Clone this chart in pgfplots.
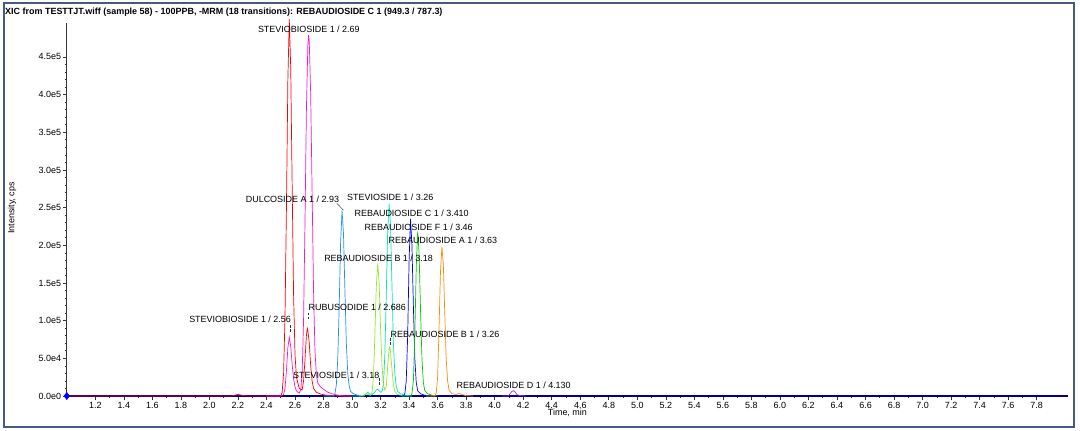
\documentclass[border=0pt]{standalone}
\usepackage{pgfplots}
\pgfplotsset{compat=1.18}
\usepackage{fontspec}
\setmainfont{Liberation Sans}

\definecolor{cRed}{RGB}{255,0,0}
\definecolor{cMag}{RGB}{255,20,200}
\definecolor{cDodger}{RGB}{30,144,255}
\definecolor{cYGreen}{RGB}{150,230,40}
\definecolor{cTurq}{RGB}{0,225,190}
\definecolor{cBlue}{RGB}{0,0,255}
\definecolor{cGreen}{RGB}{0,200,0}
\definecolor{cOrange}{RGB}{255,140,0}
\definecolor{cViolet}{RGB}{160,40,240}
\definecolor{cNavy}{RGB}{0,0,140}
\definecolor{cFrame}{RGB}{70,90,130}

\newcommand{\lbl}{\fontsize{9}{10}\selectfont}

\begin{document}
\begin{tikzpicture}[x=1bp,y=1bp]
\useasboundingbox (0,0) rectangle (1080,430);
\draw[cFrame, line width=2bp] (4,3) rectangle (1074,427);
\node[anchor=west, inner sep=0pt, font=\fontsize{9}{10}\selectfont\bfseries] at (5,417.7)
  {XIC from TESTTJT.wiff (sample 58) - 100PPB, -MRM (18 transitions): REBAUDIOSIDE C 1 (949.3 / 787.3)};
\coordinate (origin) at (66.8,34);

\begin{axis}[
  at={(origin)}, anchor=south west,
  scale only axis, width=1001.2bp, height=373bp,
  xmin=1.0, xmax=8.02, ymin=0, ymax=4.95,
  clip=false,
  axis lines*=left,
  axis line style={black!80, line width=0.8bp},
  xtick={1.2,1.4,1.6,1.8,2.0,2.2,2.4,2.6,2.8,3.0,3.2,3.4,3.6,3.8,4.0,4.2,4.4,4.6,4.8,5.0,5.2,5.4,5.6,5.8,6.0,6.2,6.4,6.6,6.8,7.0,7.2,7.4,7.6,7.8},
  ytick={0,0.5,1,1.5,2,2.5,3,3.5,4,4.5},
  yticklabels={0.0e0,5.0e4,1.0e5,1.5e5,2.0e5,2.5e5,3.0e5,3.5e5,4.0e5,4.5e5},
  minor x tick num=1, minor y tick num=4,
  tick align=outside, major tick length=4bp, minor tick length=2bp,
  tick style={black!80, line width=0.6bp},
  ticklabel style={font=\lbl},
  yticklabel style={inner sep=1.5bp},
  xticklabel style={inner sep=2bp, /pgf/number format/fixed, /pgf/number format/zerofill, /pgf/number format/precision=1},
  /pgf/number format/assume math mode=true,
  xlabel={Time, min}, ylabel={Intensity, cps},
  label style={font=\lbl},
  xlabel style={at={(axis description cs:0.5,-0.0456)}, anchor=center},
  ylabel style={at={(axis description cs:-0.0547,0.504)}, anchor=center},
  every axis plot/.append style={line width=0.7bp},
]

% baseline of the selected trace
\addplot[cNavy, line width=1.3bp] coordinates {(1.0,0)(8.02,0)};

% RUBUSOSIDE trace (red)
\addplot[cRed] coordinates {
(1.0,0)(2.15,0)(2.18,0.012)(2.20,0.02)(2.22,0.012)(2.25,0.003)(2.30,0)(2.50,0)
(2.51,0.05)(2.52,0.30)(2.53,1.05)(2.54,2.50)(2.55,4.20)(2.56,5.00)(2.57,4.35)(2.58,2.80)
(2.59,1.35)(2.60,0.55)(2.61,0.25)(2.63,0.10)(2.65,0.08)(2.66,0.20)(2.67,0.48)(2.68,0.80)
(2.686,0.90)(2.69,0.88)(2.70,0.70)(2.71,0.40)(2.72,0.20)(2.73,0.10)(2.75,0.05)(2.78,0.025)
(2.82,0.01)(2.90,0)(3.0,0)};

% STEVIOBIOSIDE trace (magenta)
\addplot[cMag] coordinates {
(2.40,0)(2.50,0)(2.52,0.02)(2.53,0.10)(2.54,0.34)(2.55,0.64)(2.56,0.78)(2.57,0.66)(2.58,0.42)
(2.59,0.23)(2.60,0.12)(2.61,0.07)(2.62,0.05)(2.63,0.04)(2.64,0.08)(2.65,0.30)(2.66,1.00)
(2.67,2.30)(2.68,3.80)(2.69,4.65)(2.695,4.79)(2.70,4.70)(2.71,4.00)(2.72,2.70)(2.73,1.40)
(2.74,0.60)(2.75,0.28)(2.76,0.17)(2.78,0.12)(2.80,0.09)(2.83,0.05)(2.86,0.03)(2.90,0.01)
(2.95,0)(3.0,0)};

% DULCOSIDE A (dodger blue)
\addplot[cDodger] coordinates {
(2.80,0)(2.87,0)(2.88,0.03)(2.89,0.15)(2.90,0.50)(2.91,1.20)(2.92,2.05)(2.93,2.46)(2.94,2.15)
(2.95,1.40)(2.96,0.70)(2.97,0.30)(2.98,0.13)(2.99,0.06)(3.01,0.03)(3.04,0.01)(3.08,0)};

% STEVIOSIDE (turquoise)
\addplot[cTurq] coordinates {
(3.0,0)(3.08,0)(3.10,0.03)(3.11,0.05)(3.12,0.03)(3.14,0.02)(3.16,0.05)(3.17,0.08)(3.18,0.09)
(3.19,0.07)(3.20,0.05)(3.21,0.06)(3.22,0.15)(3.23,0.55)(3.24,1.35)(3.25,2.20)(3.26,2.55)
(3.27,2.25)(3.28,1.45)(3.29,0.70)(3.30,0.30)(3.31,0.13)(3.32,0.06)(3.34,0.03)(3.37,0.01)(3.42,0)};

% REBAUDIOSIDE B (yellow green)
\addplot[cYGreen] coordinates {
(3.05,0)(3.08,0.01)(3.10,0.03)(3.11,0.02)(3.13,0.01)(3.14,0.04)(3.15,0.25)(3.16,0.80)
(3.17,1.45)(3.18,1.76)(3.19,1.50)(3.20,0.90)(3.21,0.40)(3.22,0.15)(3.23,0.08)(3.24,0.12)
(3.25,0.40)(3.26,0.63)(3.265,0.65)(3.27,0.58)(3.28,0.35)(3.29,0.15)(3.30,0.06)(3.32,0.02)(3.36,0)};

% REBAUDIOSIDE C (blue)
\addplot[cBlue] coordinates {
(3.30,0)(3.36,0)(3.37,0.03)(3.38,0.20)(3.39,0.80)(3.40,1.80)(3.41,2.35)(3.42,2.00)(3.43,1.20)
(3.44,0.50)(3.45,0.18)(3.46,0.07)(3.48,0.03)(3.51,0.01)(3.55,0)};

% REBAUDIOSIDE F (green)
\addplot[cGreen] coordinates {
(3.35,0)(3.41,0)(3.42,0.03)(3.43,0.20)(3.44,0.80)(3.45,1.70)(3.46,2.18)(3.47,1.90)(3.48,1.15)
(3.49,0.50)(3.50,0.18)(3.51,0.07)(3.53,0.03)(3.56,0.01)(3.60,0)};

% REBAUDIOSIDE A (orange)
\addplot[cOrange] coordinates {
(3.52,0)(3.58,0)(3.59,0.04)(3.60,0.25)(3.61,0.90)(3.62,1.65)(3.63,1.98)(3.64,1.75)(3.65,1.10)
(3.66,0.50)(3.67,0.20)(3.68,0.08)(3.70,0.03)(3.73,0.02)(3.75,0.035)(3.77,0.02)(3.80,0.005)(3.85,0)};

% REBAUDIOSIDE D (violet)
\addplot[cViolet] coordinates {
(4.05,0)(4.09,0)(4.10,0.01)(4.11,0.035)(4.12,0.06)(4.13,0.07)(4.14,0.06)(4.15,0.035)
(4.16,0.015)(4.18,0.005)(4.22,0)};

\addplot[only marks, mark=diamond*, mark size=3.5bp, cBlue] coordinates {(1.0,0)};

% peak labels
\node[font=\lbl] at (axis cs:2.697,4.863) {STEVIOBIOSIDE 1 / 2.69};
\node[font=\lbl] at (axis cs:2.582,2.613) {DULCOSIDE A 1 / 2.93};
\node[font=\lbl] at (axis cs:3.268,2.635) {STEVIOSIDE 1 / 3.26};
\node[font=\lbl] at (axis cs:3.418,2.431) {REBAUDIOSIDE C 1 / 3.410};
\node[font=\lbl] at (axis cs:3.467,2.245) {REBAUDIOSIDE F 1 / 3.46};
\node[font=\lbl] at (axis cs:3.637,2.069) {REBAUDIOSIDE A 1 / 3.63};
\node[font=\lbl] at (axis cs:3.186,1.834) {REBAUDIOSIDE B 1 / 3.18};
\node[font=\lbl] at (axis cs:3.037,1.171) {RUBUSODIDE 1 / 2.686};
\node[font=\lbl] at (axis cs:2.215,1.017) {STEVIOBIOSIDE 1 / 2.56};
\node[font=\lbl] at (axis cs:3.652,0.822) {REBAUDIOSIDE B 1 / 3.26};
\node[font=\lbl] at (axis cs:2.889,0.279) {STEVIOSIDE 1 / 3.18};
\node[font=\lbl] at (axis cs:4.133,0.146) {REBAUDIOSIDE D 1 / 4.130};

% pointer lines
\draw[black!80, line width=0.5bp] (axis cs:2.894,2.555) -- (axis cs:2.940,2.466);
\draw[black!80, line width=0.5bp, dash pattern=on 2.5bp off 1.5bp] (axis cs:2.695,1.104) -- (axis cs:2.695,0.998);
\draw[black!80, line width=0.5bp, dash pattern=on 2.5bp off 1.5bp] (axis cs:2.566,0.94) -- (axis cs:2.566,0.85);
\draw[black!80, line width=0.5bp, dash pattern=on 2.5bp off 1.5bp] (axis cs:3.268,0.765) -- (axis cs:3.268,0.676);
\draw[black!80, line width=0.5bp, dash pattern=on 2.5bp off 1.5bp] (axis cs:3.191,0.235) -- (axis cs:3.191,0.146);
\end{axis}
\end{tikzpicture}
\end{document}
